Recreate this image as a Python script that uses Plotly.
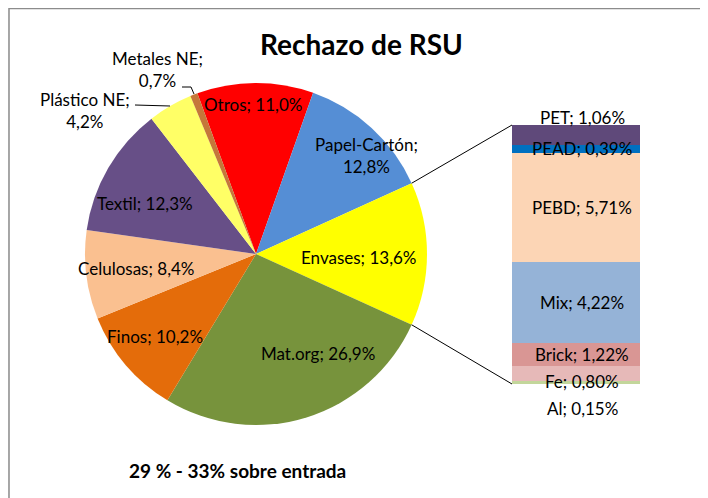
import math
import plotly.graph_objects as go

# ---------------- data ----------------
pie_labels = ["Otros", "Papel-Cartón", "Envases", "Mat.org", "Finos",
              "Celulosas", "Textil", "Plástico NE", "Metales NE"]
pie_values = [11.0, 12.8, 13.6, 26.9, 10.2, 8.4, 12.3, 4.2, 0.7]
pie_text = ["Otros; 11,0%", "Papel-Cartón;<br>12,8%", "Envases; 13,6%",
            "Mat.org; 26,9%", "Finos; 10,2%", "Celulosas; 8,4%",
            "Textil; 12,3%", "Plástico NE;<br>4,2%", "Metales NE;<br>0,7%"]

bar_labels = ["PET", "PEAD", "PEBD", "Mix", "Brick", "Fe", "Al"]
bar_values = [1.06, 0.39, 5.71, 4.22, 1.22, 0.80, 0.15]
bar_text = ["PET; 1,06%", "PEAD; 0,39%", "PEBD; 5,71%", "Mix; 4,22%",
            "Brick; 1,22%", "Fe; 0,80%", "Al; 0,15%"]

# ---------------- styles ----------------
pie_colors = ["#FF0000", "#558ED5", "#FFFF00", "#77933C", "#E46C0A",
              "#FAC090", "#674F87", "#FFFF66", "#C5773A"]
bar_colors = ["#5F497A", "#0070C0", "#FCD5B5", "#95B3D7", "#D99694",
              "#E6B9B8", "#C3D69B"]

OFF = 8                      # page body margin
W, H = 700, 490
CX, CY, R = 256, 254, 171    # pie centre / radius (screen pixels)
BX0, BX1, BY0, BY1 = 512, 640, 125, 384   # bar box (screen pixels)
FONT = "Lato"
LBL = 17

total = sum(pie_values)
idx_env = pie_labels.index("Envases")
before = sum(pie_values[:idx_env])
# rotate so the "Envases" slice is centred at 3 o'clock
rotation = 90 - (before + pie_values[idx_env] / 2) / total * 360


def px(x):
    return (x - OFF) / W


def py(y):
    return 1 - (y - OFF) / H


fig = go.Figure()

fig.add_trace(go.Pie(
    labels=pie_labels, values=pie_values, sort=False, direction="clockwise",
    rotation=rotation, marker=dict(colors=pie_colors, line=dict(width=0)),
    textinfo="none", hoverinfo="label+value", showlegend=False,
    domain=dict(x=[px(CX - R), px(CX + R)], y=[py(CY + R), py(CY - R)]),
))

# stacked bar (bottom first)
for lab, val, col in reversed(list(zip(bar_labels, bar_values, bar_colors))):
    fig.add_trace(go.Bar(x=[0], y=[val], name=lab, marker=dict(color=col, line=dict(width=0)),
                         width=1, showlegend=False, xaxis="x", yaxis="y"))

bar_total = sum(bar_values)

# pie labels (screen pixel positions)
pie_label_pos = [(253, 104), (366, 155), (358, 257), (318, 353), (155, 336),
                 (136, 268), (145, 203), (85, 111), (157, 70)]
for txt, (x, y) in zip(pie_text, pie_label_pos):
    fig.add_annotation(x=px(x), y=py(y), xref="paper", yref="paper", text=txt,
                       xanchor="center", yanchor="middle",
                       showarrow=False, font=dict(family=FONT, size=LBL, color="#000"),
                       align="center")

# leader lines for outside labels
leaders = [
    [(135, 105), (170, 106)],                 # Plástico NE
    [(182, 87), (191, 87), (194, 94)],        # Metales NE
]
for pts in leaders:
    path = "M " + " L ".join(f"{px(x)},{py(y)}" for x, y in pts)
    fig.add_shape(type="path", path=path, xref="paper", yref="paper",
                  line=dict(color="#000", width=1))

# bar labels
cum = bar_total
label_shift = {"PET": 18, "Fe": -8, "Al": -26}
for lab, val, txt in zip(bar_labels, bar_values, bar_text):
    mid = cum - val / 2
    cum -= val
    fig.add_annotation(x=0, y=mid, xref="x", yref="y", text=txt, showarrow=False,
                       xanchor="center", yanchor="middle",
                       xshift=6, yshift=label_shift.get(lab, 0),
                       font=dict(family=FONT, size=LBL, color="#000"))

# connector lines from Envases slice edges to bar corners
a_top = math.radians(rotation + before / total * 360)
a_bot = math.radians(rotation + (before + pie_values[idx_env]) / total * 360)
for ang, by in ((a_top, BY0), (a_bot, BY1)):
    ex = CX + R * math.sin(ang)
    ey = CY - R * math.cos(ang)
    fig.add_shape(type="line", x0=px(ex), y0=py(ey), x1=px(BX0), y1=py(by),
                  xref="paper", yref="paper", line=dict(color="#000", width=1))

# chart area border
fig.add_shape(type="rect", x0=px(9), y0=-0.05, x1=1.05, y1=py(8.5),
              xref="paper", yref="paper", line=dict(color="#8c8c8c", width=1.5),
              fillcolor="white", layer="below")

fig.add_annotation(x=px(362), y=py(44), xref="paper", yref="paper",
                   xanchor="center", yanchor="middle",
                   text="<b>Rechazo de RSU</b>", showarrow=False,
                   font=dict(family=FONT, size=28, color="#000"))
fig.add_annotation(x=px(237), y=py(470), xref="paper", yref="paper",
                   xanchor="center", yanchor="middle",
                   text="<b>29 % - 33% sobre entrada</b>", showarrow=False,
                   font=dict(family=FONT, size=19, color="#000"))

fig.update_layout(
    width=W, height=H, margin=dict(l=0, r=0, t=0, b=0),
    paper_bgcolor="#f3f3f3", plot_bgcolor="rgba(0,0,0,0)",
    barmode="stack", bargap=0,
    xaxis=dict(domain=[px(BX0), px(BX1)], range=[-0.5, 0.5], visible=False, fixedrange=True),
    yaxis=dict(domain=[py(BY1), py(BY0)], range=[0, bar_total], visible=False, fixedrange=True),
)

fig.write_html("out.html")
